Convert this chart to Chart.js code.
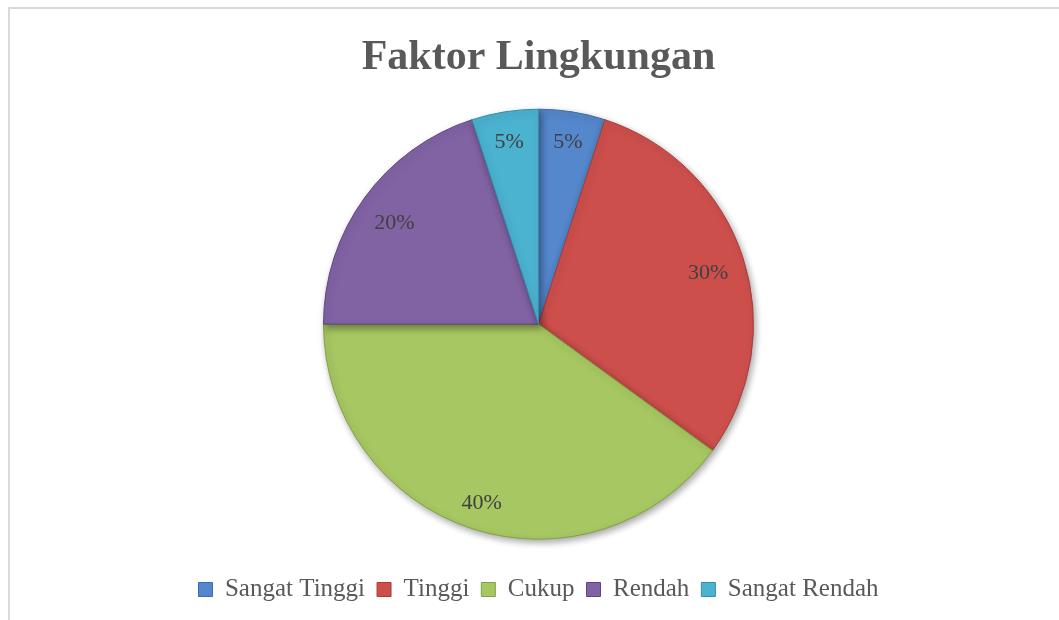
<!DOCTYPE html>
<html>
<head>
<meta charset="utf-8">
<script src="https://cdn.jsdelivr.net/npm/chart.js@4/dist/chart.umd.min.js"></script>
<style>
  html, body { margin: 0; padding: 0; background: #fff; }
  #wrap { position: relative; width: 1059px; height: 620px; overflow: hidden; }
  #frame { position: absolute; left: 8px; top: 7px; width: 1100px; height: 700px; border: 2px solid #d9d9d9; box-sizing: border-box; }
  canvas { position: absolute; left: 0; top: 0; }
</style>
</head>
<body>
<div id="wrap">
  <div id="frame"></div>
  <canvas id="pieChart" width="1059" height="620"></canvas>
</div>
<script>
const categories = ['Sangat Tinggi', 'Tinggi', 'Cukup', 'Rendah', 'Sangat Rendah'];
const percentages = [5, 30, 40, 20, 5];
const sliceColors = ['#5587cc', '#cd4f4c', '#a6c761', '#8163a4', '#4bb3d0'];
const edgeColors = ['#3d6aa8', '#a53d3a', '#82a045', '#5f4680', '#338ea8'];

const serif = '"Liberation Serif", "Times New Roman", serif';

// soft drop shadow under the pie
const pieShadow = {
    id: 'pieShadow',
    beforeDatasetsDraw(chart) {
        const ctx = chart.ctx;
        ctx.save();
        ctx.shadowColor = 'rgba(0, 0, 0, 0.35)';
        ctx.shadowBlur = 7;
        ctx.shadowOffsetX = 2;
        ctx.shadowOffsetY = 3;
    },
    afterDatasetsDraw(chart) {
        chart.ctx.restore();
    }
};

// percent labels drawn just inside the outer edge of each slice
const insideEndLabels = {
    id: 'insideEndLabels',
    afterDatasetsDraw(chart) {
        const ctx = chart.ctx;
        const meta = chart.getDatasetMeta(0);
        ctx.save();
        ctx.font = '22px ' + serif;
        ctx.fillStyle = '#404040';
        ctx.textAlign = 'center';
        ctx.textBaseline = 'middle';
        meta.data.forEach((arc, i) => {
            const text = percentages[i] + '%';
            const mid = (arc.startAngle + arc.endAngle) / 2;
            const w = ctx.measureText(text).width / 2;
            const h = 11;
            const extent = Math.abs(w * Math.cos(mid)) + Math.abs(h * Math.sin(mid));
            const r = arc.outerRadius - 14 - extent;
            ctx.fillText(text, arc.x + Math.cos(mid) * r, arc.y + Math.sin(mid) * r + 4);
        });
        ctx.restore();
    }
};

const ctx = document.getElementById('pieChart').getContext('2d');
new Chart(ctx, {
    type: 'pie',
    data: {
        labels: categories,
        datasets: [{
            data: percentages,
            backgroundColor: sliceColors,
            borderColor: edgeColors,
            borderWidth: 1,
            radius: 215
        }]
    },
    options: {
        responsive: false,
        animation: false,
        layout: { padding: { top: 0, bottom: 8, left: 18, right: 0 } },
        plugins: {
            title: {
                display: true,
                text: 'Faktor Lingkungan',
                color: '#595959',
                font: { family: serif, size: 42, weight: 'bold' },
                padding: { top: 33, bottom: 0 }
            },
            legend: {
                position: 'bottom',
                labels: {
                    color: '#595959',
                    font: { family: serif, size: 25 },
                    boxWidth: 14,
                    boxHeight: 14,
                    padding: 12
                }
            },
            tooltip: { enabled: false }
        }
    },
    plugins: [pieShadow, insideEndLabels]
});
</script>
</body>
</html>
